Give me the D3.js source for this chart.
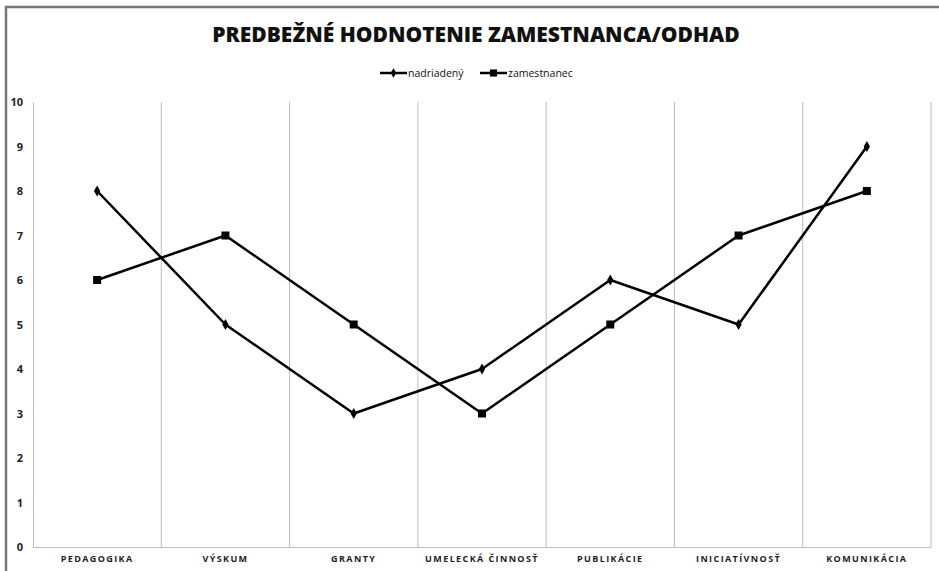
<!DOCTYPE html>
<html>
<head>
<meta charset="utf-8">
<script src="https://cdn.jsdelivr.net/npm/d3@7"></script>
<style>
  body { margin: 0; background: #fff; }
  text { font-family: "Open Sans", "DejaVu Sans", sans-serif; }
</style>
</head>
<body>
<div id="chart"></div>
<script>
// Data
const categories = ["PEDAGOGIKA", "VÝSKUM", "GRANTY", "UMELECKÁ ČINNOSŤ", "PUBLIKÁCIE", "INICIATÍVNOSŤ", "KOMUNIKÁCIA"]
const nadriadeny = [8, 5, 3, 4, 6, 5, 9]
const zamestnanec = [6, 7, 5, 3, 5, 7, 8]
const yTicks = [0, 1, 2, 3, 4, 5, 6, 7, 8, 9, 10]

const width = 939
const height = 571
const margin = {top: 102, right: 8, bottom: 24, left: 33}

const svg = d3.select('#chart').append('svg')
  .attr("width", width)
  .attr("height", height)

// frame
svg.append("path")
  .attr("d", "M6," + height + " V7 H" + width)
  .attr("fill", "none")
  .attr("stroke", "#777")
  .attr("stroke-width", 2.5)

// Title
svg.append("text")
  .attr("x", 476).attr("y", 42)
  .attr("text-anchor", "middle")
  .attr("font-size", 21)
  .attr("font-weight", 800)
  .attr("fill", "#111")
  .text("PREDBEŽNÉ HODNOTENIE ZAMESTNANCA/ODHAD")

// Scales
const x = d3.scaleBand()
  .domain(categories)
  .range([margin.left, width - margin.right])
const y = d3.scaleLinear()
  .domain([0, 10])
  .range([height - margin.bottom, margin.top])

// vertical grid lines at band edges
svg.append("g")
  .selectAll("line")
  .data(categories.slice(1).concat([null]))
  .enter()
  .append("line")
  .attr("x1", d => d ? x(d) : x.range()[1])
  .attr("x2", d => d ? x(d) : x.range()[1])
  .attr("y1", y(10))
  .attr("y2", y(0))
  .attr("stroke", "#bdbdbd")
  .attr("stroke-width", 1)

// y axis
const yAxis = svg.append("g")
  .attr("transform", "translate(" + margin.left + ",0)")
  .call(d3.axisLeft(y).tickValues(yTicks).tickSize(0).tickPadding(10))
yAxis.select(".domain").attr("stroke", "#bdbdbd")
yAxis.selectAll("text")
  .attr("font-size", 11)
  .attr("font-weight", "bold")
  .attr("fill", "#222")
  .attr("font-family", "'Open Sans', sans-serif")

// x axis
const xAxis = svg.append("g")
  .attr("transform", "translate(0," + y(0) + ")")
  .call(d3.axisBottom(x).tickSize(0).tickPadding(9))
xAxis.select(".domain").attr("stroke", "#bdbdbd")
xAxis.selectAll("text")
  .attr("font-size", 9)
  .attr("font-weight", "bold")
  .attr("letter-spacing", 1.4)
  .attr("fill", "#222")
  .attr("font-family", "'Open Sans', sans-serif")

// Lines
const line = d3.line()
  .x((d, i) => x(categories[i]) + x.bandwidth() / 2)
  .y(d => y(d))

const series = [
  {name: "nadriadený", values: nadriadeny, symbol: d3.symbolDiamond, size: 34},
  {name: "zamestnanec", values: zamestnanec, symbol: d3.symbolSquare, size: 64}
]

series.forEach(s => {
  svg.append("path")
    .datum(s.values)
    .attr("d", line)
    .attr("fill", "none")
    .attr("stroke", "#000")
    .attr("stroke-width", 2.5)
    .attr("stroke-linejoin", "round")

  svg.append("g")
    .selectAll("path")
    .data(s.values)
    .enter()
    .append("path")
    .attr("d", d3.symbol().type(s.symbol).size(s.size))
    .attr("transform", (d, i) => "translate(" + (x(categories[i]) + x.bandwidth() / 2) + "," + y(d) + ")")
    .attr("fill", "#000")
})

// Legend
const legend = svg.append("g")
const legendX = [380, 480]
series.forEach((s, i) => {
  const g = legend.append("g").attr("transform", "translate(" + legendX[i] + ",73)")
  g.append("line").attr("x1", 0).attr("x2", 27).attr("stroke", "#000").attr("stroke-width", 2.5)
  g.append("path")
    .attr("d", d3.symbol().type(s.symbol).size(s.size * 0.8))
    .attr("transform", "translate(13.5,0)")
  g.append("text")
    .attr("x", 28).attr("y", 3.5)
    .attr("font-size", 10.5)
    .attr("fill", "#111")
    .text(s.name)
})
</script>
</body>
</html>
